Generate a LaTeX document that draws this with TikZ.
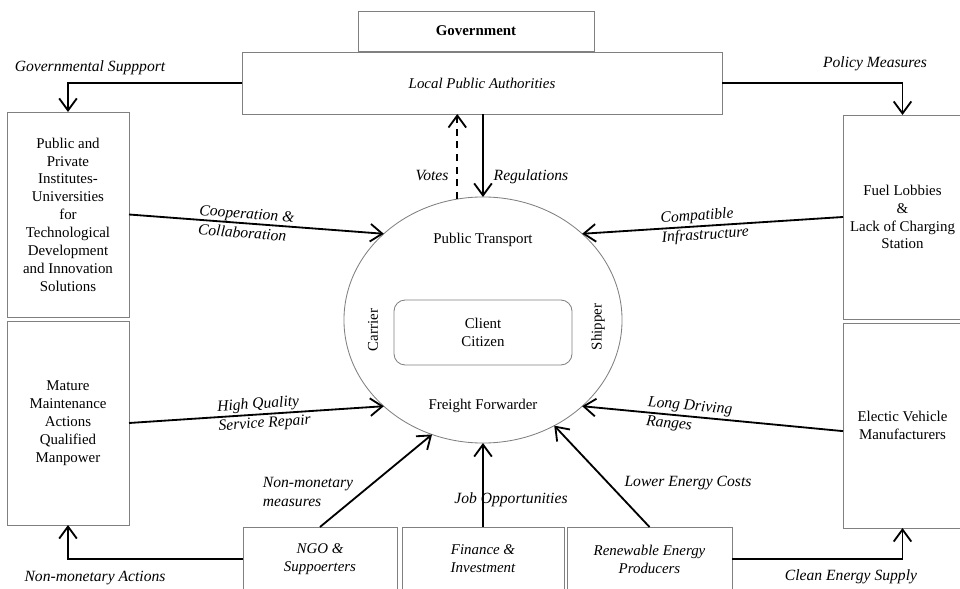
\documentclass[tikz,border=0pt]{standalone}
\usepackage{fontspec}
\setmainfont{Liberation Serif}
\usetikzlibrary{arrows.meta,positioning,shapes.geometric}

\begin{document}
\begin{tikzpicture}[
	x=0.025cm, y=-0.025cm,
	every node/.style={font=\fontsize{10.6}{12.7}\selectfont},
	box/.style={draw=gray, line width=0.6pt, inner sep=2pt, outer sep=0pt, align=center},
	lbl/.style={font=\fontsize{11.1}{13.8}\selectfont\itshape, inner sep=1pt},
	arrow/.style={-{Straight Barb[length=3mm,width=4.4mm]}, line width=1.3pt}
	]
	\useasboundingbox (0,0) rectangle (960,589);
	
	% top boxes
	\node[box, minimum width=5.9cm, minimum height=1cm, font=\fontsize{10.6}{12.7}\selectfont\bfseries] (gov) at (476,31) {Government};
	\node[box, minimum width=12cm, minimum height=1.55cm, font=\fontsize{10.6}{12.7}\selectfont\itshape] (lpa) at (482,83) {Local Public Authorities};
	
	% side boxes
	\node[box, minimum width=3.05cm, minimum height=5.125cm] (inst) at (68,214.5) {Public and\\Private\\Institutes-\\Universities\\for\\Technological\\Development\\and Innovation\\Solutions};
	\node[box, minimum width=3.05cm, minimum height=5.1cm] (maint) at (68,423) {Mature\\Maintenance\\Actions\\Qualified\\Manpower};
	\node[box, minimum width=2.975cm, minimum height=5.1cm] (fuel) at (902.5,217) {Fuel Lobbies\\\&\\Lack of Charging\\Station};
	\node[box, minimum width=2.975cm, minimum height=5.125cm] (evm) at (902.5,425.5) {Electic Vehicle\\Manufacturers};
	
	% bottom boxes
	\node[box, minimum width=3.85cm, minimum height=1.6cm, font=\fontsize{10.6}{12.7}\selectfont\itshape] (ngo) at (320,559) {NGO \&\\Suppoerters};
	\node[box, minimum width=4.05cm, minimum height=1.6cm, font=\fontsize{10.6}{12.7}\selectfont\itshape] (fin) at (483,559) {Finance \&\\Investment};
	\node[box, minimum width=4.125cm, minimum height=1.6cm, font=\fontsize{10.6}{12.7}\selectfont\itshape] (ren) at (649.5,559) {Renewable Energy\\Producers};
	
	% centre
	\node[ellipse, draw=gray, line width=0.6pt, minimum width=6.95cm, minimum height=6.15cm, inner sep=0pt, outer sep=0pt] (hub) at (483,320) {};
	\node[box, rounded corners=8pt, minimum width=4.45cm, minimum height=1.625cm] (client) at (483,332.5) {Client\\Citizen};
	\node (pt) at (483,240) {Public Transport};
	\node (ff) at (483,406) {Freight Forwarder};
	\node[rotate=90] (carrier) at (373,330) {Carrier};
	\node[rotate=90] (shipper) at (598,327) {Shipper};
	
	% arrows from the authorities
	\draw[arrow] (lpa.west) -| (inst.north);
	\node[lbl] (govsup) at (90,68) {Governmental Suppport};
	\draw[arrow] (lpa.east) -| (fuel.north);
	\node[lbl] (polm) at (875,64) {Policy Measures};
	\draw[arrow, dash pattern=on 5pt off 4pt] (hub.102) -- (hub.102 |- lpa.south);
	\node[lbl] (votes) at (432,176) {Votes};
	\draw[arrow] (lpa.south -| hub.north) -- (hub.north);
	\node[lbl] (regs) at (531,177) {Regulations};
	
	% arrows into the centre
	\draw[arrow] (inst.east) -- node[lbl, sloped, align=left, pos=0.46] (coop) {Cooperation \&\\Collaboration} (hub.139);
	\draw[arrow] (fuel.west) -- node[lbl, sloped, align=left, pos=0.53] (compat) {Compatible\\Infrastructure} (hub.41);
	\draw[arrow] (maint.east) -- node[lbl, sloped, align=left, pos=0.53] (hqual) {High Quality\\Service Repair} (hub.221);
	\draw[arrow] ([yshift=-4pt]evm.west) -- node[lbl, sloped, align=left, pos=0.59] (range) {Long Driving\\Ranges} (hub.319);
	\draw[arrow] (ngo.north) -- (hub.246);
	\node[lbl, align=left] (nonmon) at (308,492) {Non-monetary\\measures};
	\draw[arrow] (fin.north) -- (hub.south);
	\node[lbl] (jobs) at (511,500) {Job Opportunities};
	\draw[arrow] (ren.north) -- (hub.304);
	\node[lbl] (lowcost) at (688,483) {Lower Energy Costs};
	
	% arrows from the bottom boxes
	\draw[arrow] (ngo.west) -| (maint.south);
	\node[lbl] (nonact) at (95,578) {Non-monetary Actions};
	\draw[arrow] (ren.east) -| (evm.south);
	\node[lbl] (clean) at (851,577) {Clean Energy Supply};
	
\end{tikzpicture}
\end{document}
